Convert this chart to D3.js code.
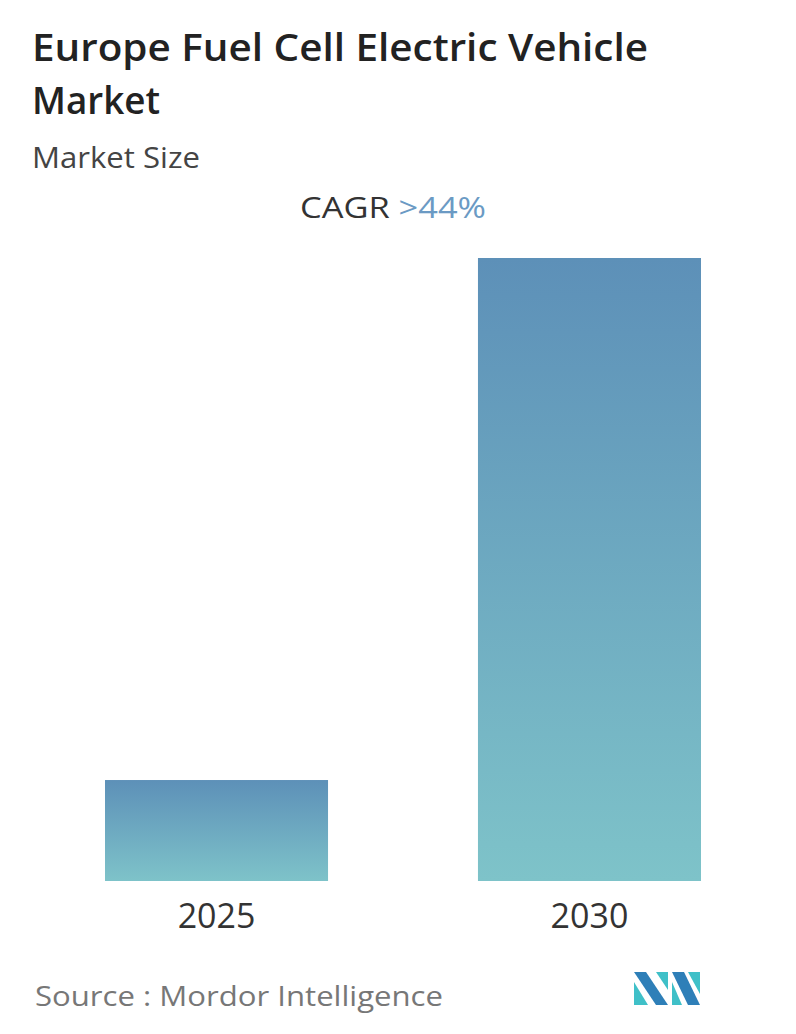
<!DOCTYPE html>
<html><head><meta charset="utf-8">
<script src="https://cdn.jsdelivr.net/npm/d3@7"></script>
<style>body{margin:0;background:#fff;font-family:"Open Sans",sans-serif;}</style>
</head><body>
<svg id="c" width="796" height="1034"></svg>
<script>
const categories = ["2025", "2030"];
const values = [1, 6.17];
const svg = d3.select("#c");
const defs = svg.append("defs");
const g = defs.append("linearGradient").attr("id","gr").attr("x1",0).attr("y1",0).attr("x2",0).attr("y2",1);
g.append("stop").attr("offset","0%").attr("stop-color","#5d90b8");
g.append("stop").attr("offset","100%").attr("stop-color","#7ec3c9");
svg.append("text").attr("x",32).attr("y",61).attr("font-size",37).attr("font-weight",600).attr("fill","#222").attr("textLength",616).attr("lengthAdjust","spacingAndGlyphs").text("Europe Fuel Cell Electric Vehicle");
svg.append("text").attr("x",32).attr("y",114).attr("font-size",37).attr("font-weight",600).attr("fill","#222").attr("textLength",128).attr("lengthAdjust","spacingAndGlyphs").text("Market");
svg.append("text").attr("x",32).attr("y",168).attr("font-size",29).attr("fill","#444").attr("textLength",168).attr("lengthAdjust","spacingAndGlyphs").text("Market Size");
const t = svg.append("text").attr("x",300).attr("y",218).attr("font-size",30).attr("textLength",186).attr("lengthAdjust","spacingAndGlyphs");
t.append("tspan").attr("fill","#333").text("CAGR ");
t.append("tspan").attr("fill","#6b9ac4").text(">44%");
const x = d3.scaleBand().domain(categories).range([105,701]).paddingInner(0.402).paddingOuter(0);
const y = d3.scaleLinear().domain([0,6.17]).range([881,258]);
svg.selectAll("rect.b").data(values).enter().append("rect").attr("class","b")
  .attr("x",(d,i)=>x(categories[i])).attr("width",x.bandwidth())
  .attr("y",d=>y(d)).attr("height",d=>881-y(d)).attr("fill","url(#gr)");
const ax = svg.append("g").attr("transform","translate(0,881)").call(d3.axisBottom(x).tickSize(0).tickPadding(18));
ax.select(".domain").remove();
ax.selectAll("text").attr("font-size",34).attr("fill","#333").attr("font-family","Open Sans").attr("dy","0.85em");
svg.append("text").attr("x",35).attr("y",1006).attr("font-size",28).attr("fill","#777").attr("textLength",408).attr("lengthAdjust","spacingAndGlyphs").text("Source :  Mordor Intelligence");
const L = svg.append("g").attr("transform","translate(634,972)");
L.append("polygon").attr("points","0,0 12,0 34,33 22,33").attr("fill","#2e7fb8");
L.append("polygon").attr("points","0,10 0,33 14,33").attr("fill","#3fc0c8");
L.append("polygon").attr("points","22,0 34,0 34,18").attr("fill","#3fc0c8");
L.append("polygon").attr("points","38,0 50,0 66,33 54,33").attr("fill","#2e7fb8");
L.append("polygon").attr("points","38,10 38,33 48,33").attr("fill","#3fc0c8");
L.append("polygon").attr("points","54,0 66,0 66,22").attr("fill","#3fc0c8");
</script>
</body></html>
